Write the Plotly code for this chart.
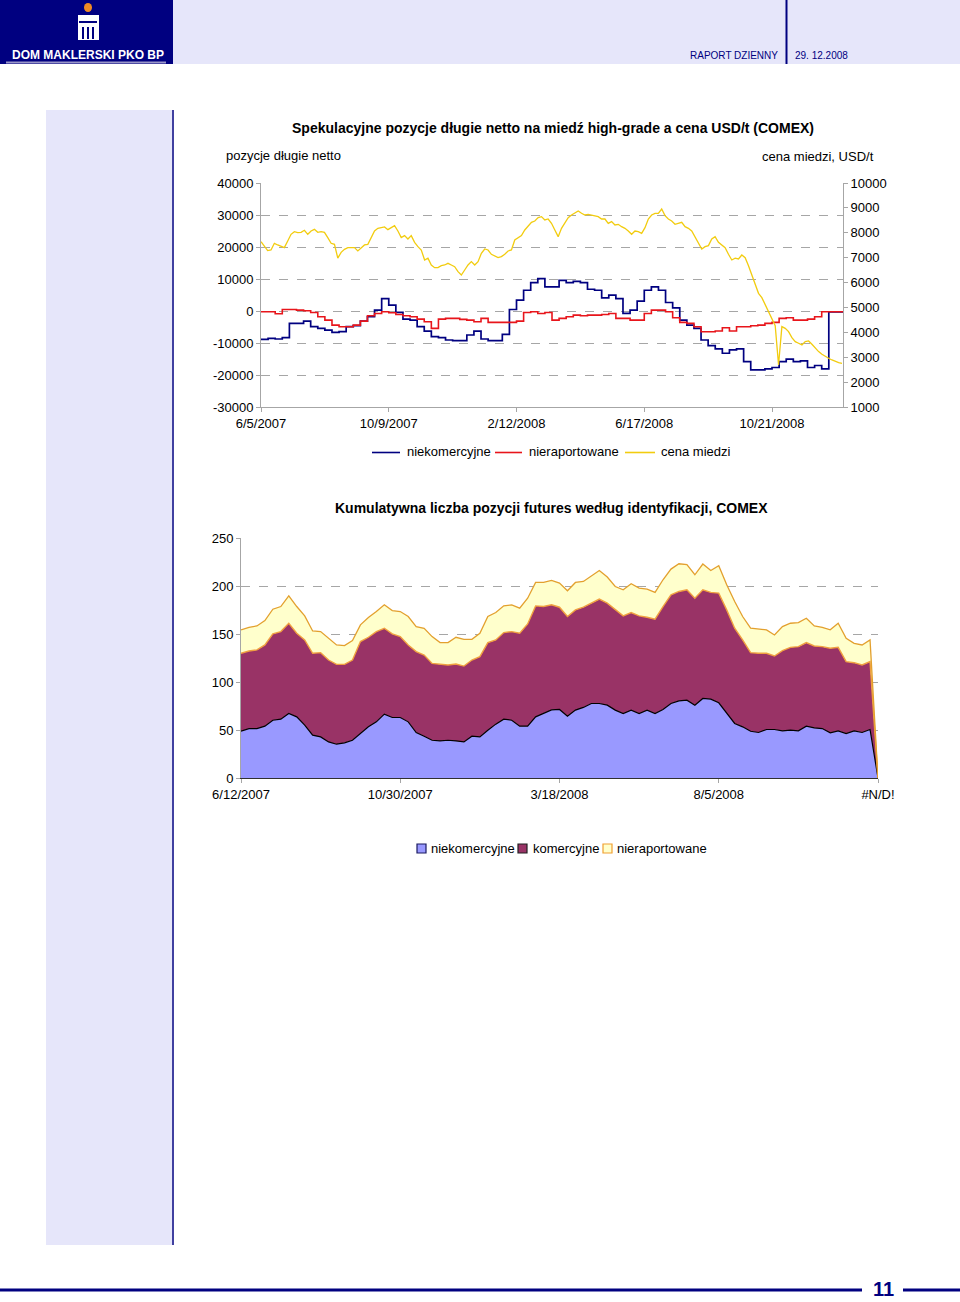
import plotly.graph_objects as go
import pandas as pd
from datetime import date, timedelta

# ------------------------------------------------------------------ data
# Top chart: weekly COT net positions (Tuesdays) and daily-ish copper price
cot_start = "2007-06-05"
niekomercyjne_net = [
    -8850, -8540, -8750, -8330, -3880, -3880, -3150, -4910, -5430, -5950,
    -6670, -6470, -4910, -4600, -3150, -1800, 270, 3890, 1820, -460,
    -2530, -2840, -4910, -6260, -8020, -8330, -9060, -9260, -9260, -7500,
    -6260, -8750, -9260, -9260, -7300, 470, 3370, 6480, 8870, 10110,
    7520, 7520, 9590, 8870, 9280, 8870, 6790, 6480, 4100, 4930,
    3890, -770, 270, 3060, 6480, 7520, 6480, 2650, 990, -2840,
    -4400, -5430, -9060, -10820, -11850, -13200, -12170, -11850, -15790, -18380,
    -18380, -18070, -17660, -15790, -15070, -15790, -15580, -17660, -17030, -18070,
    -250, -250, -250,
]
nieraportowane_net = [
    -250, -250, -870, 470, 470, 270, 60, -460, -1810, -2840,
    -4400, -4910, -4910, -4400, -3150, -1490, -770, -250, -560, -1080,
    -1490, -1810, -2530, -3360, -5430, -2530, -2320, -2320, -2630, -2840,
    -3360, -2320, -3570, -3570, -3570, -3570, -3150, -460, -250, -770,
    -460, -2840, -2320, -1810, -1290, -1490, -1290, -1290, -1080, -770,
    -2320, -2320, -2840, -2840, -770, 270, 270, -250, -2110, -3570,
    -3880, -4910, -6470, -6470, -6260, -5220, -6260, -4910, -4910, -4600,
    -4400, -3880, -3570, -2320, -2110, -2840, -2840, -2530, -1810, -250,
    -250, -250, -250,
]
price_start, price_end = "2007-06-05", "2008-12-29"
cena_miedzi = [
    7643, 7443, 7282, 7309, 7577, 7510, 7443, 7402, 7670, 7938,
    8045, 8005, 8018, 8099, 7938, 8072, 8139, 8018, 8045, 8018,
    7804, 7577, 7536, 6981, 7215, 7336, 7402, 7416, 7402, 7269,
    7402, 7510, 7536, 7804, 8072, 8179, 8206, 8233, 8125, 8206,
    8286, 8072, 7804, 7885, 7750, 7885, 7617, 7443, 7309, 6907,
    6981, 6706, 6599, 6599, 6679, 6706, 6773, 6706, 6639,
    6438, 6304, 6505, 6706, 6840, 6706, 6840, 7175, 7349, 7309,
    7135, 7081, 7001, 7041, 7135, 7269, 7309, 7711, 7804, 7885,
    8112, 8286, 8420, 8474, 8608, 8648, 8514, 8554, 8380, 8112,
    7844, 8179, 8420, 8608, 8715, 8782, 8875, 8782, 8715, 8741,
    8715, 8688, 8648, 8554, 8554, 8380, 8447, 8313, 8340, 8246,
    8179, 8072, 7938, 8072, 8045, 7978, 8206, 8554,
    8715, 8782, 8782, 8956, 8688, 8554, 8474, 8340, 8380, 8420,
    8246, 8179, 8072, 7844, 7577, 7349, 7443, 7483, 7750, 7844,
    7617, 7510, 7402, 7135, 6907, 6981, 6947, 7108, 7001, 6679,
    6331, 5970, 5568, 5394, 5126, 4858, 4537, 4269, 2689, 4229,
    4162, 4028, 3787, 3627, 3560, 3493, 3627, 3653, 3519, 3359,
    3225, 3118, 3024, 2957, 2890, 2823, 2783, 2756,
]
top_ticks = ["2007-06-05", "2007-10-09", "2008-02-12", "2008-06-17", "2008-10-21"]
top_ticklabels = ["6/5/2007", "10/9/2007", "2/12/2008", "6/17/2008", "10/21/2008"]
left_ticks = [-30000, -20000, -10000, 0, 10000, 20000, 30000, 40000]
right_ticks = [1000, 2000, 3000, 4000, 5000, 6000, 7000, 8000, 9000, 10000]

# Bottom chart: weekly stacked positions (thousands), last category is #N/D!
bottom_start = date(2007, 6, 12)
niekomercyjne = [
    48.7, 51.5, 51.5, 54.0, 60.2, 61.3, 67.2, 63.7, 55.0, 44.6,
    42.8, 37.6, 35.2, 36.6, 39.3, 46.3, 53.3, 58.5, 66.5, 63.0,
    63.0, 58.5, 47.4, 43.5, 39.3, 38.6, 39.3, 38.6, 37.6, 43.5,
    42.8, 49.8, 56.1, 61.3, 60.2, 54.0, 54.0, 63.7, 67.5, 71.0,
    71.4, 64.4, 70.7, 73.5, 77.6, 77.6, 75.9, 70.7, 67.2, 70.7,
    67.2, 70.7, 67.2, 71.4, 77.6, 80.4, 81.1, 75.9, 82.9, 82.2,
    78.3, 67.2, 56.8, 53.3, 48.7, 47.4, 50.5, 50.5, 49.1, 49.8,
    49.1, 54.0, 52.2, 51.5, 47.0, 49.1, 46.3, 49.1, 47.4, 50.5,
    0,
]
komercyjne = [
    81.2, 80.8, 81.9, 84.6, 89.9, 91.2, 94.0, 87.1, 88.8, 85.3,
    87.8, 85.3, 83.2, 81.8, 83.6, 95.8, 93.3, 94.0, 89.5, 87.1,
    84.3, 80.1, 84.2, 84.6, 80.1, 80.1, 78.4, 80.1, 79.0, 79.4,
    83.6, 91.2, 87.7, 90.2, 92.3, 96.8, 106.5, 115.6, 111.1, 109.4,
    106.5, 103.8, 104.4, 104.4, 104.5, 108.7, 106.2, 105.1, 101.7, 101.7,
    101.7, 96.8, 98.2, 107.2, 113.2, 113.9, 114.9, 111.4, 113.1, 111.1,
    114.3, 107.9, 99.2, 90.5, 81.9, 82.5, 79.4, 76.6, 83.6, 86.3,
    87.7, 87.0, 85.3, 85.3, 88.1, 87.0, 74.9, 71.0, 70.3, 70.7,
    0,
]
nieraportowane = [
    24.4, 24.7, 25.0, 25.4, 25.7, 26.1, 28.6, 27.8, 25.1, 23.3,
    21.9, 22.6, 20.2, 19.5, 20.2, 17.4, 20.5, 20.9, 24.4, 24.3,
    26.1, 29.6, 26.1, 27.9, 27.9, 22.3, 23.3, 27.9, 27.9, 21.6,
    24.4, 27.2, 28.6, 27.8, 27.9, 26.1, 26.8, 24.4, 25.1, 25.4,
    25.1, 26.8, 28.6, 26.8, 28.6, 29.9, 27.2, 23.7, 27.1, 29.9,
    28.9, 29.2, 27.9, 27.9, 26.8, 28.9, 26.2, 24.4, 26.9, 22.9,
    28.5, 26.2, 27.8, 24.4, 25.4, 25.1, 24.4, 21.9, 25.0, 25.1,
    25.1, 25.4, 20.9, 20.2, 19.2, 25.1, 24.3, 20.2, 20.9, 22.6,
    0,
]
bottom_ticks_every = 20
bottom_yticks = [0, 50, 100, 150, 200, 250]

# ------------------------------------------------------------------ helpers
W, H = 960, 1302
def X(px):
    return px / W
def Y(py):
    return 1 - py / H

FONT = "Liberation Sans, Arial, Helvetica, sans-serif"
NAVY = "#000080"
LAV = "#E6E6FA"
GRID = "#A6A6A6"

cot_dates = pd.date_range(cot_start, periods=len(niekomercyjne_net), freq="7D")
price_dates = pd.date_range(price_start, price_end, periods=len(cena_miedzi))

cats = [f"{d.month}/{d.day}/{d.year}" for d in
        (bottom_start + timedelta(weeks=k) for k in range(len(niekomercyjne) - 1))] + ["#N/D!"]
bottom_tickvals = cats[::bottom_ticks_every]

fig = go.Figure()

# top chart traces
fig.add_trace(go.Scatter(x=cot_dates, y=niekomercyjne_net, mode="lines", line_shape="hv",
                         line=dict(color=NAVY, width=1.7), name="niekomercyjne",
                         xaxis="x", yaxis="y", showlegend=False))
fig.add_trace(go.Scatter(x=cot_dates, y=nieraportowane_net, mode="lines", line_shape="hv",
                         line=dict(color="#E8151B", width=1.6), name="nieraportowane",
                         xaxis="x", yaxis="y", showlegend=False))
fig.add_trace(go.Scatter(x=price_dates, y=cena_miedzi, mode="lines",
                         line=dict(color="#F2CC0F", width=1.3), name="cena miedzi",
                         xaxis="x", yaxis="y2", showlegend=False))

# bottom chart stacked areas
fig.add_trace(go.Scatter(x=cats, y=niekomercyjne, mode="lines", stackgroup="one",
                         fillcolor="#9999FF", line=dict(color="#000000", width=1.2),
                         name="niekomercyjne", xaxis="x3", yaxis="y3", showlegend=False))
fig.add_trace(go.Scatter(x=cats, y=komercyjne, mode="lines", stackgroup="one",
                         fillcolor="#993366", line=dict(color="#F0A040", width=1.4),
                         name="komercyjne", xaxis="x3", yaxis="y3", showlegend=False))
fig.add_trace(go.Scatter(x=cats, y=nieraportowane, mode="lines", stackgroup="one",
                         fillcolor="#FFFFCC", line=dict(color="#E3A02E", width=1.3),
                         name="nieraportowane", xaxis="x3", yaxis="y3", showlegend=False))

axis_common = dict(tickfont=dict(family=FONT, size=13, color="#000"),
                   ticks="outside", ticklen=4, tickcolor=GRID,
                   showline=True, linecolor=GRID, linewidth=1, zeroline=False,
                   automargin=False)

fig.update_layout(
    width=W, height=H, autosize=False,
    margin=dict(l=0, r=0, t=0, b=0, pad=0, autoexpand=False),
    paper_bgcolor="white", plot_bgcolor="rgba(0,0,0,0)",
    font=dict(family=FONT, size=13, color="#000"),
    showlegend=False,
    xaxis=dict(domain=[X(261), X(843)], anchor="y", type="date",
               range=["2007-06-05", "2008-12-30"], tickmode="array",
               tickvals=top_ticks, ticktext=top_ticklabels, showgrid=False,
               **axis_common),
    yaxis=dict(domain=[Y(407), Y(183)], anchor="x", range=[-30000, 40000],
               tickmode="array", tickvals=left_ticks, ticktext=[str(v) for v in left_ticks],
               showgrid=True, gridcolor=GRID, griddash="dash", gridwidth=1,
               **axis_common),
    yaxis2=dict(overlaying="y", side="right", anchor="x", range=[1000, 10000],
                tickmode="array", tickvals=right_ticks, ticktext=[str(v) for v in right_ticks],
                showgrid=False, **axis_common),
    xaxis3=dict(domain=[X(241), X(878)], anchor="y3", type="category",
                range=[0, len(cats) - 1], tickmode="array", tickvals=bottom_tickvals,
                ticktext=bottom_tickvals, showgrid=False,
                tickfont=dict(family=FONT, size=13, color="#000"),
                ticks="outside", ticklen=4, tickcolor=GRID,
                showline=True, linecolor="#303030", linewidth=1, zeroline=False,
                automargin=False),
    yaxis3=dict(domain=[Y(778), Y(538)], anchor="x3", range=[0, 250],
                tickmode="array", tickvals=bottom_yticks, ticktext=[str(v) for v in bottom_yticks],
                showgrid=True, gridcolor=GRID, griddash="dash", gridwidth=1,
                **axis_common),
)

shapes = []
def rect(x0, y0, x1, y1, fill, line=None, lw=0, layer="below"):
    shapes.append(dict(type="rect", xref="paper", yref="paper", x0=X(x0), x1=X(x1),
                       y0=Y(y1), y1=Y(y0), fillcolor=fill,
                       line=dict(color=line or fill, width=lw), layer=layer))
def hline(x0, x1, yy, color, width):
    shapes.append(dict(type="line", xref="paper", yref="paper", x0=X(x0), x1=X(x1),
                       y0=Y(yy), y1=Y(yy), line=dict(color=color, width=width)))
def vline(xx, y0, y1, color, width):
    shapes.append(dict(type="line", xref="paper", yref="paper", x0=X(xx), x1=X(xx),
                       y0=Y(y0), y1=Y(y1), line=dict(color=color, width=width)))

# header
rect(173, 0, 960, 64, LAV)
rect(0, 0, 173, 64, NAVY)
hline(6, 166, 62.5, "#9A96C8", 2)
vline(786.5, 0, 64, NAVY, 2)
# logo (simplified)
shapes.append(dict(type="circle", xref="paper", yref="paper", x0=X(84), x1=X(92),
                   y0=Y(12), y1=Y(3), fillcolor="#F08A24", line=dict(width=0)))
rect(78, 15, 99, 40, "white")
rect(79, 21, 97, 23, NAVY)
rect(82, 27, 84, 39, NAVY)
rect(87, 27, 89, 39, NAVY)
rect(92, 27, 94, 39, NAVY)
# sidebar
rect(46, 110, 172, 1245, LAV)
vline(173, 110, 1245, NAVY, 1.5)
# footer
hline(0, 862, 1290, NAVY, 3)
hline(903, 960, 1290, NAVY, 3)
# top legend
hline(372, 400, 452.5, NAVY, 1.6)
hline(495, 522, 452.5, "#E8151B", 1.6)
hline(625, 655, 452.5, "#F2CC0F", 1.6)
# bottom legend swatches
rect(417, 844, 426, 853, "#9999FF", "#1A1A60", 1.2, layer="above")
rect(518, 844, 527, 853, "#993366", "#202020", 1.2, layer="above")
rect(603, 844, 612, 853, "#FFFFCC", "#F0A030", 1.2, layer="above")

annotations = []
def text(x, y, s, size=13, anchor="left", color="#000", bold=False):
    annotations.append(dict(xref="paper", yref="paper", x=X(x), y=Y(y),
                            text=f"<b>{s}</b>" if bold else s, showarrow=False,
                            xanchor=anchor, yanchor="middle",
                            font=dict(family=FONT, size=size, color=color)))

text(10, 55, "DOM MAKLERSKI PKO BP", 12, "left", "white", True)
text(780, 55, "RAPORT DZIENNY", 10, "right", NAVY)
text(793, 55, "29. 12.2008", 10, "left", NAVY)
text(553, 128, "Spekulacyjne pozycje długie netto na miedź high-grade a cena USD/t (COMEX)", 14, "center", bold=True)
text(224, 155, "pozycje długie netto", 13, "left")
text(876, 156, "cena miedzi, USD/t", 13, "right")
text(405, 452, "niekomercyjne", 13, "left")
text(527, 452, "nieraportowane", 13, "left")
text(659, 452, "cena miedzi", 13, "left")
text(551, 508, "Kumulatywna liczba pozycji futures według identyfikacji, COMEX", 14, "center", bold=True)
text(429, 848, "niekomercyjne", 13, "left")
text(531, 848, "komercyjne", 13, "left")
text(615, 848, "nieraportowane", 13, "left")
text(883, 1289, "11", 20, "center", NAVY, True)

fig.update_layout(shapes=shapes, annotations=annotations)
fig.write_html(
    "out.html",
    config={"displayModeBar": False},
    post_script="document.body.style.margin='0px';document.body.style.overflow='hidden';",
)
